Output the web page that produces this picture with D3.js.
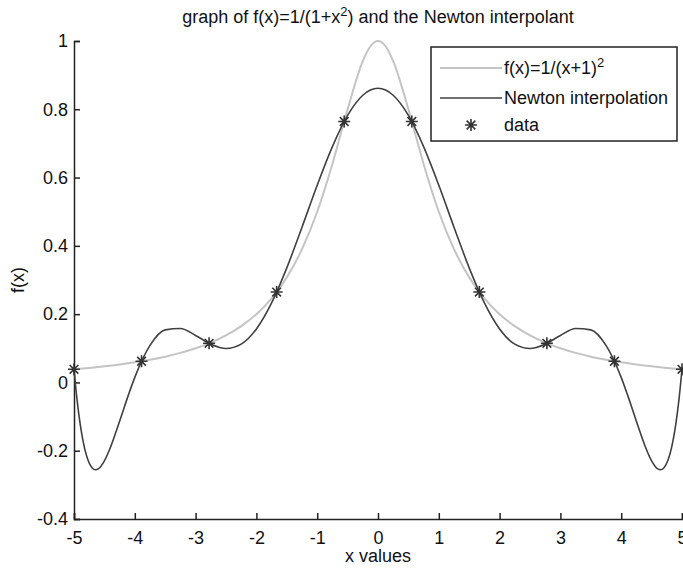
<!DOCTYPE html>
<html>
<head>
<meta charset="utf-8">
<style>
  body { margin: 0; background: #fff; }
  text { font-family: "Liberation Sans", Arial, sans-serif; fill: #111; }
</style>
<title>graph of f(x)=1/(1+x^2) and the Newton interpolant</title>
</head>
<body>
<script src="https://cdn.jsdelivr.net/npm/d3@7"></script>
<script>
// values
var fX = [-5,-4.75,-4.5,-4.25,-4,-3.75,-3.5,-3.25,-3,-2.75,-2.5,-2.25,-2,-1.75,-1.5,-1.25,-1,-0.75,-0.5,-0.25,-0.125,
          0,0.125,0.25,0.5,0.75,1,1.25,1.5,1.75,2,2.25,2.5,2.75,3,3.25,3.5,3.75,4,4.25,4.5,4.75,5];
var fY = [0.0385,0.0425,0.0471,0.0525,0.0588,0.0664,0.0755,0.0865,0.1,0.1168,0.1379,0.1649,0.2,0.2462,0.3077,0.3902,0.5,0.64,0.8,0.9412,0.9846,
          1,0.9846,0.9412,0.8,0.64,0.5,0.3902,0.3077,0.2462,0.2,0.1649,0.1379,0.1168,0.1,0.0865,0.0755,0.0664,0.0588,0.0525,0.0471,0.0425,0.0385];

var newtonX = [-5,-4.95,-4.9,-4.85,-4.75,-4.7,-4.65,-4.6,-4.5,-4.4,-4.25,-4.1,-4,-3.75,-3.5,-3.25,-3,-2.75,-2.5,-2.25,-2,-1.75,-1.5,-1.25,-1,-0.75,-0.5,-0.25,-0.125,
               0,0.125,0.25,0.5,0.75,1,1.25,1.5,1.75,2,2.25,2.5,2.75,3,3.25,3.5,3.75,4,4.1,4.25,4.4,4.5,4.6,4.65,4.7,4.75,4.85,4.9,4.95,5];
var newtonY = [0.0385,-0.0502,-0.1197,-0.1725,-0.2361,-0.2506,-0.2558,-0.2533,-0.2300,-0.1899,-0.1138,-0.0343,0.0147,0.1084,0.1540,0.1581,0.1377,0.1123,0.0995,0.1122,0.1566,0.2330,0.3356,0.4546,0.5775,0.6907,0.7820,0.8411,0.8564,
               0.8616,0.8564,0.8411,0.7820,0.6907,0.5775,0.4546,0.3356,0.2330,0.1566,0.1122,0.0995,0.1123,0.1377,0.1581,0.1540,0.1084,0.0147,-0.0343,-0.1138,-0.1899,-0.2300,-0.2533,-0.2558,-0.2506,-0.2361,-0.1725,-0.1197,-0.0502,0.0385];

var dataX = [-5,-3.889,-2.778,-1.667,-0.556,0.556,1.667,2.778,3.889,5];
var dataY = [0.0385,0.0620,0.1147,0.2647,0.7642,0.7642,0.2647,0.1147,0.0620,0.0385];

var xTicks = [-5,-4,-3,-2,-1,0,1,2,3,4,5];
var yTicks = [-0.4,-0.2,0,0.2,0.4,0.6,0.8,1];

var width = 683, height = 569;
var mLeft = 74, mRight = 682, mTop = 41, mBottom = 519;
var fontSize = 18;

var svg = d3.select("body").append("svg").attr("width", width).attr("height", height);

var x = d3.scaleLinear().domain([-5, 5]).range([mLeft, mRight]);
var y = d3.scaleLinear().domain([-0.4, 1]).range([mBottom, mTop]);

// plain hyphen for minus, like the original
function fmt(d) { return String(+d.toFixed(1)); }

// axes (ticks point inward, like matlab)
var xAxis = d3.axisBottom(x).tickValues(xTicks).tickSize(-6).tickPadding(12).tickFormat(fmt);
var yAxis = d3.axisLeft(y).tickValues(yTicks).tickSize(-6).tickPadding(6).tickFormat(fmt);

var gx = svg.append("g").attr("transform", "translate(0," + mBottom + ")").call(xAxis);
var gy = svg.append("g").attr("transform", "translate(" + mLeft + ",0)").call(yAxis);
[gx, gy].forEach(function(g) {
  g.select(".domain").attr("stroke", "#222").attr("stroke-width", 1.5);
  g.selectAll(".tick line").attr("stroke", "#222").attr("stroke-width", 1.5);
  g.selectAll(".tick text").attr("font-size", fontSize).attr("font-family", "Liberation Sans, Arial, sans-serif").attr("fill", "#111");
});

var line = d3.line().curve(d3.curveMonotoneX)
  .x(function(d) { return x(d[0]); })
  .y(function(d) { return y(d[1]); });

var fPts = fX.map(function(v, i) { return [v, fY[i]]; });
var nPts = newtonX.map(function(v, i) { return [v, newtonY[i]]; });

svg.append("path").attr("d", line(fPts)).attr("fill", "none").attr("stroke", "#c4c4c4").attr("stroke-width", 2);
svg.append("path").attr("d", line(nPts)).attr("fill", "none").attr("stroke", "#404040").attr("stroke-width", 1.6);

// matlab style '*' marker: plus and cross on top of each other
function star(g, cx, cy, r) {
  var d = r * 0.72;
  g.append("path")
    .attr("d", "M" + (cx - r) + "," + cy + "L" + (cx + r) + "," + cy +
               "M" + cx + "," + (cy - r) + "L" + cx + "," + (cy + r) +
               "M" + (cx - d) + "," + (cy - d) + "L" + (cx + d) + "," + (cy + d) +
               "M" + (cx - d) + "," + (cy + d) + "L" + (cx + d) + "," + (cy - d))
    .attr("stroke", "#333").attr("stroke-width", 1.6).attr("fill", "none");
}
var gs = svg.append("g");
dataX.forEach(function(v, i) { star(gs, x(v), y(dataY[i]), 6); });

// title
var title = svg.append("text").attr("x", 378).attr("y", 23).attr("text-anchor", "middle").attr("font-size", fontSize);
title.append("tspan").text("graph of f(x)=1/(1+x");
title.append("tspan").attr("dy", -7).attr("font-size", 13).text("2");
title.append("tspan").attr("dy", 7).text(") and the Newton interpolant");

svg.append("text").attr("x", (mLeft + mRight) / 2).attr("y", 562).attr("text-anchor", "middle").attr("font-size", fontSize).text("x values");
svg.append("text").attr("transform", "translate(24," + ((mTop + mBottom) / 2) + ") rotate(-90)").attr("text-anchor", "middle").attr("font-size", fontSize).text("f(x)");

// legend
var lg = svg.append("g");
lg.append("rect").attr("x", 431).attr("y", 47).attr("width", 246).attr("height", 94)
  .attr("fill", "#fff").attr("stroke", "#222").attr("stroke-width", 1.5);
var rows = [68, 98, 125];
lg.append("line").attr("x1", 440).attr("x2", 502).attr("y1", rows[0]).attr("y2", rows[0]).attr("stroke", "#c4c4c4").attr("stroke-width", 2);
lg.append("line").attr("x1", 440).attr("x2", 502).attr("y1", rows[1]).attr("y2", rows[1]).attr("stroke", "#404040").attr("stroke-width", 1.6);
star(lg, 471, rows[2], 6);
var t1 = lg.append("text").attr("x", 504).attr("y", rows[0] + 6).attr("font-size", fontSize);
t1.append("tspan").text("f(x)=1/(x+1)");
t1.append("tspan").attr("dy", -7).attr("font-size", 13).text("2");
lg.append("text").attr("x", 504).attr("y", rows[1] + 6).attr("font-size", fontSize).text("Newton interpolation");
lg.append("text").attr("x", 504).attr("y", rows[2] + 6).attr("font-size", fontSize).text("data");
</script>
</body>
</html>
